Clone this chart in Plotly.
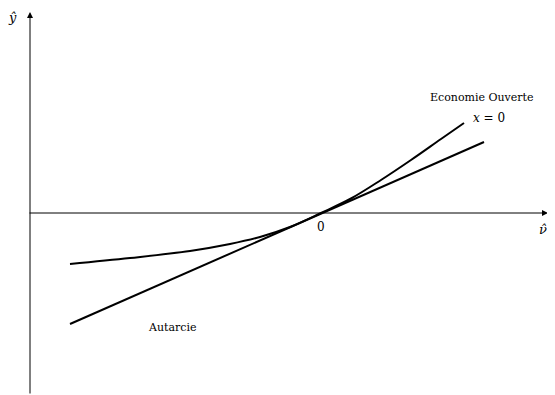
import plotly.graph_objects as go

# Autarcie (droite) et Economie Ouverte (courbe convexe), repere centre en 0
autarcie_x = [-2.51, 1.63]
autarcie_y = [-1.11, 0.71]

ouverte_x = [-2.51, -1.91, -1.31, -0.91, -0.61, -0.31, 0.0, 0.3, 0.6, 0.9, 1.2, 1.43]
ouverte_y = [-0.51, -0.45, -0.38, -0.31, -0.24, -0.14, 0.0, 0.145, 0.33, 0.53, 0.74, 0.90]

# la page html ajoute une marge de 8px autour du graphique
x_range = [-3.13, 2.34]
y_range = [-1.82, 2.05]

font_serif = "DejaVu Serif, Liberation Serif, serif"

fig = go.Figure()

fig.add_trace(go.Scatter(
    x=autarcie_x, y=autarcie_y, mode='lines',
    line=dict(color='black', width=2), showlegend=False, hoverinfo='skip'
))
fig.add_trace(go.Scatter(
    x=ouverte_x, y=ouverte_y, mode='lines', line_shape='spline',
    line=dict(color='black', width=2), showlegend=False, hoverinfo='skip'
))

# axes avec fleches
fig.add_annotation(x=2.27, y=0, ax=-2.93, ay=0, xref='x', yref='y', axref='x', ayref='y',
                   text='', showarrow=True, arrowhead=2, arrowsize=1.2, arrowwidth=1, arrowcolor='black')
fig.add_annotation(x=-2.91, y=2.01, ax=-2.91, ay=-1.82, xref='x', yref='y', axref='x', ayref='y',
                   text='', showarrow=True, arrowhead=2, arrowsize=1.2, arrowwidth=1, arrowcolor='black')

# textes
labels = [
    ('<i>ŷ</i>', -3.09, 1.96, 13),
    ('<i>ν̂</i>', 2.22, -0.16, 13),
    ('0', 0.0, -0.14, 12),
    ('Economie Ouverte', 1.61, 1.16, 11),
    ('<i>x</i> = 0', 1.68, 0.95, 12),
    ('Autarcie', -1.49, -1.14, 11),
]
for txt, lx, ly, sz in labels:
    fig.add_annotation(x=lx, y=ly, text=txt, showarrow=False, xref='x', yref='y',
                       font=dict(family=font_serif, size=sz, color='black'))

fig.update_layout(
    width=547, height=387,
    margin=dict(l=0, r=0, t=0, b=0),
    plot_bgcolor='white', paper_bgcolor='white',
    xaxis=dict(range=x_range, visible=False, fixedrange=True),
    yaxis=dict(range=y_range, visible=False, fixedrange=True),
)

fig.write_html("out.html")
